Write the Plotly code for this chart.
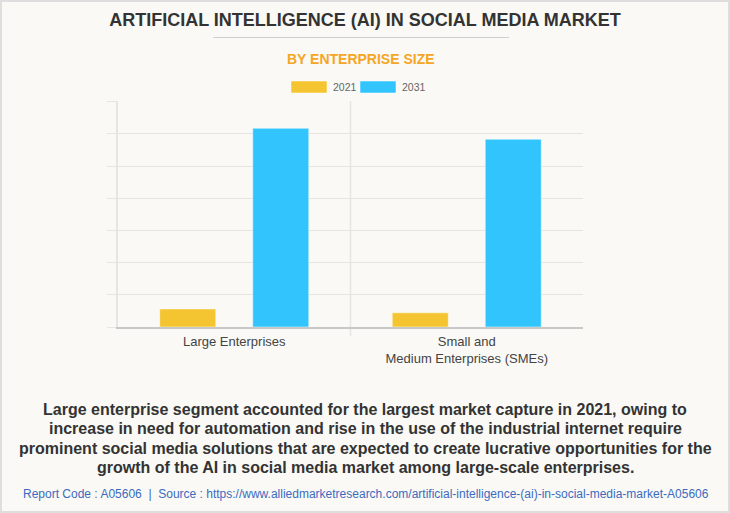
import plotly.graph_objects as go

categories = ["Large Enterprises", "Small and<br>Medium Enterprises (SMEs)"]
years = ["2021", "2031"]
values_2021 = [0.56, 0.44]
values_2031 = [6.17, 5.83]
colors = {"2021": "#F4C531", "2031": "#32C5FD"}

W, H = 730, 513
L, R, T, B = 118, 583, 101, 327  # plot area in px
YMAX = 7.02


def px(x):
    return (x - L) / (R - L)


def py(y):
    return (B - y) / (B - T)


FONT = "Liberation Sans, Arial, sans-serif"

fig = go.Figure()
for name, vals in (("2021", values_2021), ("2031", values_2031)):
    fig.add_trace(go.Bar(
        x=categories, y=vals, name=name,
        marker=dict(color=colors[name], line=dict(color="rgba(255,255,255,0.45)", width=1)),
        showlegend=False,
    ))

shapes = [
    # outer border
    dict(type="rect", xref="paper", yref="paper", x0=px(1), x1=px(729), y0=py(512), y1=py(1),
         line=dict(color="#DEDEDE", width=2), fillcolor="rgba(0,0,0,0)", layer="below"),
    # title underline
    dict(type="line", xref="paper", yref="paper", x0=px(213), x1=px(509), y0=py(37.5), y1=py(37.5),
         line=dict(color="#CFCFCF", width=1)),
    # category divider
    dict(type="line", xref="x", yref="paper", x0=0.5, x1=0.5, y0=py(336), y1=1,
         line=dict(color="#E6E5E1", width=1.5), layer="below"),
]
annotations = []
# custom legend
leg = [("2021", 291, 327, 331), ("2031", 360, 396, 400)]
for name, x0, x1, tx in leg:
    shapes.append(dict(type="rect", xref="paper", yref="paper", x0=px(x0), x1=px(x1),
                       y0=py(93), y1=py(81), fillcolor=colors[name],
                       line=dict(color="rgba(255,255,255,0.5)", width=1)))
    annotations.append(dict(text=name, xref="paper", yref="paper", x=px(tx), y=py(87),
                            xanchor="left", yanchor="middle", showarrow=False,
                            font=dict(family=FONT, size=10.5, color="#666666")))

annotations.append(dict(text="<b>BY ENTERPRISE SIZE</b>", xref="paper", yref="paper",
                        x=px(361), y=py(59), xanchor="center", yanchor="middle", showarrow=False,
                        font=dict(family=FONT, size=14, color="#F5A623")))

para_lines = [
    "Large enterprise segment accounted for the largest market capture in 2021, owing to",
    "increase in need for automation and rise in the use of the industrial internet require",
    "prominent social media solutions that are expected to create lucrative opportunities for the",
    "growth of the AI in social media market among large-scale enterprises.",
]
para_y = [409, 428.5, 448, 467.5]
for line, yy in zip(para_lines, para_y):
    annotations.append(dict(text="<b>" + line + "</b>", xref="paper", yref="paper",
                            x=px(365), y=py(yy), xanchor="center", yanchor="middle",
                            showarrow=False,
                            font=dict(family=FONT, size=16, color="#333333")))
annotations.append(dict(
    text="Report Code : A05606  |  Source : https://www.alliedmarketresearch.com/artificial-intelligence-(ai)-in-social-media-market-A05606",
    xref="paper", yref="paper", x=px(365.5), y=py(494), xanchor="center", yanchor="middle",
    showarrow=False, font=dict(family=FONT, size=12, color="#3A6BC0")))

fig.update_layout(
    width=W, height=H,
    margin=dict(l=L, r=W - R, t=T, b=H - B, pad=0),
    paper_bgcolor="#FAF9F5", plot_bgcolor="#FAF9F5",
    barmode="group", bargap=0.2, bargroupgap=0.398,
    title=dict(text="<b>ARTIFICIAL INTELLIGENCE (AI) IN SOCIAL MEDIA MARKET</b>",
               x=0.5, xref="container", xanchor="center",
               y=1 - 20 / H, yref="container", yanchor="middle",
               font=dict(family=FONT, size=18, color="#333333")),
    xaxis=dict(showgrid=False, showline=True, linecolor="#C8C8C8", linewidth=1.5,
               ticks="", ticklabelstandoff=2,
               tickfont=dict(family=FONT, size=13, color="#444444"), fixedrange=True),
    yaxis=dict(range=[0, YMAX], dtick=1, showticklabels=False, showgrid=True, gridcolor="#E6E5E1",
               gridwidth=1, zeroline=False, showline=True, linecolor="#E6E5E1", linewidth=1.5,
               ticks="outside", ticklen=9, tickcolor="#E6E5E1", fixedrange=True),
    shapes=shapes, annotations=annotations,
    font=dict(family=FONT),
)

fig.write_html("out.html", config={"displayModeBar": False},
               post_script="document.body.style.margin='0';document.body.style.padding='0';")
